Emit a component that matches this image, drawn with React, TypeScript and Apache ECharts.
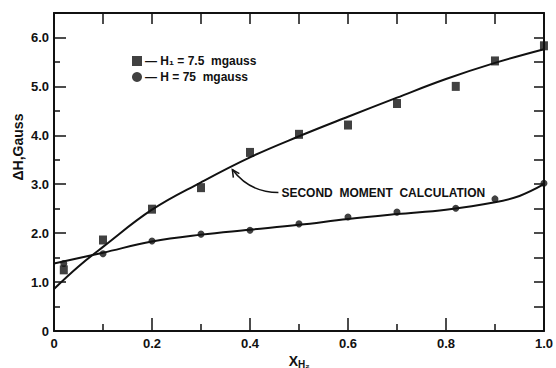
import React, { useEffect, useRef } from "react";
import * as echarts from "echarts";

const squareX = [0.02, 0.1, 0.2, 0.3, 0.4, 0.5, 0.6, 0.7, 0.82, 0.9, 1.0];
const squareY = [1.25, 1.86, 2.49, 2.93, 3.65, 4.02, 4.21, 4.65, 5.0, 5.52, 5.83];
const circleX = [0.02, 0.1, 0.2, 0.3, 0.4, 0.5, 0.6, 0.7, 0.82, 0.9, 1.0];
const circleY = [1.38, 1.58, 1.84, 1.98, 2.06, 2.19, 2.33, 2.43, 2.51, 2.7, 3.02];
const upperCurveX = [0, 0.05, 0.1, 0.2, 0.3, 0.4, 0.5, 0.6, 0.7, 0.8, 0.9, 1.0];
const upperCurveY = [0.86, 1.32, 1.72, 2.48, 3.04, 3.55, 3.98, 4.38, 4.77, 5.15, 5.48, 5.76];
const lowerCurveX = [0, 0.1, 0.2, 0.3, 0.4, 0.5, 0.6, 0.7, 0.8, 0.9, 0.95, 1.0];
const lowerCurveY = [1.38, 1.6, 1.83, 1.97, 2.07, 2.17, 2.29, 2.39, 2.48, 2.63, 2.76, 3.0];
const seriesNames = ["— H₁ = 7.5  mgauss", "— H = 75  mgauss"];
const annotationText = "SECOND  MOMENT  CALCULATION";
const yAxisTitle = "ΔH,Gauss";

const FONT = "Liberation Sans";
const INK = "#111";

export default function App() {
  const ref = useRef<HTMLDivElement>(null);
  useEffect(() => {
    const chart = echarts.init(ref.current!, null, { renderer: "svg" });
    const zip = (xs: number[], ys: number[]) => xs.map((x, i) => [x, ys[i]]);
    const lbl = (v: number) => (v === 0 ? "0" : v.toFixed(1));
    chart.setOption({
      animation: false,
      backgroundColor: "#fff",
      grid: { left: 54, right: 10, top: 13, bottom: 37 },
      legend: {
        orient: "vertical",
        left: 127,
        top: 50,
        itemGap: 4,
        itemWidth: 10,
        itemHeight: 10,
        data: seriesNames,
        textStyle: { fontFamily: FONT, fontWeight: "bold", fontSize: 12, color: INK, padding: [0, 0, 0, -2] },
      },
      xAxis: [
        {
          type: "value",
          min: 0,
          max: 1,
          interval: 0.2,
          position: "bottom",
          axisLine: { onZero: false, lineStyle: { color: INK, width: 2 } },
          axisTick: { show: true, inside: true, length: 13, lineStyle: { color: INK, width: 1.5 } },
          minorTick: { show: true, splitNumber: 2, length: 7, lineStyle: { color: INK, width: 1.5 } },
          splitLine: { show: false },
          axisLabel: {
            margin: 6,
            fontFamily: FONT,
            fontWeight: "bold",
            fontSize: 13,
            color: INK,
            formatter: lbl,
          },
        },
        {
          type: "value",
          min: 0,
          max: 1,
          interval: 0.1,
          position: "top",
          axisLine: { show: true, onZero: false, lineStyle: { color: INK, width: 2 } },
          axisTick: { show: true, inside: true, length: 11, lineStyle: { color: INK, width: 1.5 } },
          axisLabel: { show: false },
          splitLine: { show: false },
        },
      ],
      yAxis: [
        {
          type: "value",
          min: 0,
          max: 6.5,
          interval: 1,
          position: "left",
          axisLine: { show: true, onZero: false, lineStyle: { color: INK, width: 2 } },
          axisTick: { show: true, inside: true, length: 12, lineStyle: { color: INK, width: 1.5 } },
          minorTick: { show: true, splitNumber: 2, length: 6, lineStyle: { color: INK, width: 1.5 } },
          splitLine: { show: false },
          axisLabel: {
            margin: 5,
            showMaxLabel: false,
            fontFamily: FONT,
            fontWeight: "bold",
            fontSize: 13,
            color: INK,
            formatter: lbl,
          },
        },
        {
          type: "value",
          min: 0,
          max: 6.5,
          interval: 0.5,
          position: "right",
          axisLine: { show: true, onZero: false, lineStyle: { color: INK, width: 2 } },
          axisTick: { show: true, inside: true, length: 10, lineStyle: { color: INK, width: 1.5 } },
          axisLabel: { show: false },
          splitLine: { show: false },
        },
      ],
      series: [
        {
          name: "upperCurve",
          type: "line",
          smooth: 0.4,
          showSymbol: false,
          symbol: "none",
          lineStyle: { color: INK, width: 2 },
          data: zip(upperCurveX, upperCurveY),
          z: 2,
        },
        {
          name: "lowerCurve",
          type: "line",
          smooth: 0.4,
          showSymbol: false,
          symbol: "none",
          lineStyle: { color: INK, width: 2 },
          data: zip(lowerCurveX, lowerCurveY),
          z: 2,
        },
        {
          name: seriesNames[0],
          type: "scatter",
          symbol: "rect",
          symbolSize: [8, 9],
          itemStyle: { color: INK },
          clip: false,
          data: zip(squareX, squareY),
          z: 3,
        },
        {
          name: seriesNames[1],
          type: "scatter",
          symbol: "circle",
          symbolSize: 7,
          itemStyle: { color: INK },
          clip: false,
          data: zip(circleX, circleY),
          z: 3,
        },
      ],
    });

    const px = (x: number, y: number) => chart.convertToPixel({ gridIndex: 0 }, [x, y]) as number[];
    const head = px(0.364, 3.3);
    const tail = px(0.458, 2.83);
    const mid = px(0.5, 0);
    chart.setOption({
      graphic: [
        {
          type: "bezierCurve",
          shape: {
            x1: head[0],
            y1: head[1],
            cpx1: head[0] + 12,
            cpy1: head[1] + 16,
            cpx2: head[0] + 28,
            cpy2: tail[1],
            x2: tail[0],
            y2: tail[1],
          },
          style: { stroke: INK, lineWidth: 1.5, fill: "none" },
        },
        {
          type: "polyline",
          shape: {
            points: [
              [head[0] + 1, head[1] + 8],
              [head[0], head[1]],
              [head[0] + 7, head[1] + 4],
            ],
          },
          style: { stroke: INK, lineWidth: 1.5, fill: "none" },
        },
        {
          type: "text",
          x: tail[0] + 3,
          y: tail[1],
          style: {
            text: annotationText,
            fontFamily: FONT,
            fontWeight: "bold",
            fontSize: 12,
            fill: INK,
            verticalAlign: "middle",
          },
        },
        {
          type: "text",
          x: 18,
          y: 147,
          rotation: Math.PI / 2,
          style: {
            text: yAxisTitle,
            fontFamily: FONT,
            fontWeight: "bold",
            fontSize: 14,
            fill: INK,
            align: "center",
            verticalAlign: "middle",
          },
        },
        {
          type: "text",
          x: mid[0] - 1,
          y: 361,
          style: {
            text: "X",
            fontFamily: FONT,
            fontWeight: "bold",
            fontSize: 14,
            fill: INK,
            align: "right",
            verticalAlign: "middle",
          },
        },
        {
          type: "text",
          x: mid[0] - 1,
          y: 364,
          style: {
            text: "H₂",
            fontFamily: FONT,
            fontWeight: "bold",
            fontSize: 10,
            fill: INK,
            align: "left",
            verticalAlign: "middle",
          },
        },
      ],
    });
    return () => chart.dispose();
  }, []);
  return <div ref={ref} style={{ width: 556, height: 368, position: "absolute", left: 0, top: 0 }} />;
}
